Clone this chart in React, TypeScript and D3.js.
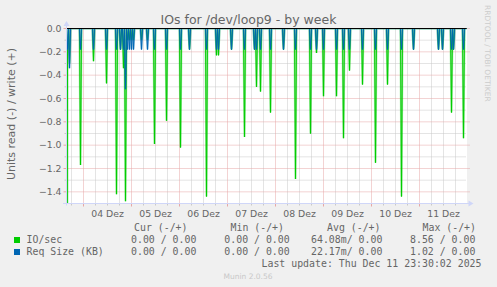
import React from 'react';
import * as d3 from 'd3';

const W = 497;
const H = 287;

const startTime = '2025-12-03T15:30:00';
const endTime = '2025-12-11T23:30:00';

// spike events (read side, plotted negative)
const eventTimes = [
  '2025-12-03T15:30', '2025-12-03T16:00', '2025-12-03T17:00', '2025-12-03T22:30',
  '2025-12-04T05:00', '2025-12-04T11:30', '2025-12-04T16:30', '2025-12-04T18:30',
  '2025-12-04T20:00', '2025-12-04T21:00', '2025-12-04T22:00', '2025-12-04T23:00',
  '2025-12-05T00:00', '2025-12-05T01:00', '2025-12-05T05:00', '2025-12-05T08:00',
  '2025-12-05T11:30', '2025-12-05T17:30', '2025-12-06T00:30', '2025-12-06T05:00',
  '2025-12-06T13:30', '2025-12-06T18:30', '2025-12-06T19:30', '2025-12-07T02:00',
  '2025-12-07T08:30', '2025-12-07T13:30', '2025-12-07T14:30', '2025-12-07T16:30',
  '2025-12-07T21:30', '2025-12-08T04:00', '2025-12-08T10:00', '2025-12-08T17:30',
  '2025-12-08T20:30', '2025-12-09T00:00', '2025-12-09T06:30', '2025-12-09T10:00',
  '2025-12-09T13:00', '2025-12-09T19:30', '2025-12-10T02:00', '2025-12-10T08:00',
  '2025-12-10T15:00', '2025-12-10T21:00', '2025-12-11T09:30', '2025-12-11T11:30',
  '2025-12-11T16:00', '2025-12-11T17:00', '2025-12-11T22:00',
];
const ioValues = [
  8.56, 0.18, 0.3, 1.17,
  0.28, 0.47, 1.42, 0.18,
  0.34, 1.48, 0.1, 0.1,
  0.1, 0.1, 0.1, 0.1,
  0.99, 0.79, 1.02, 0.18,
  1.44, 0.23, 0.23, 0.18,
  0.93, 0.18, 0.5, 0.54,
  0.72, 0.18, 1.29, 0.9,
  0.21, 0.58, 0.58, 0.94,
  0.36, 0.48, 1.15, 0.48,
  1.44, 0.18, 0.18, 0.18,
  0.72, 0.18, 0.94,
];
const reqValues = [
  0, 0.18, 0.34, 0.18,
  0.18, 0.18, 0.18, 0.18,
  0.18, 0.52, 0.18, 0.18,
  0.18, 0.18, 0.18, 0.18,
  0.18, 0.18, 0.18, 0.18,
  0.18, 0.18, 0.18, 0.18,
  0.18, 0.18, 0.18, 0.18,
  0.18, 0.18, 0.18, 0.18,
  0.18, 0.18, 0.18, 0.18,
  0.18, 0.18, 0.18, 0.18,
  0.18, 0.18, 0.18, 0.18,
  0.18, 0.18, 0.18,
];

const yMajorTicks = [0, -0.2, -0.4, -0.6, -0.8, -1.0, -1.2, -1.4];
const yMinorTicks = [-0.1, -0.3, -0.5, -0.7, -0.9, -1.1, -1.3, -1.5];
const xTickLabels = ['04 Dez', '05 Dez', '06 Dez', '07 Dez', '08 Dez', '09 Dez', '10 Dez', '11 Dez'];

const seriesNames = ['IO/sec', 'Req Size (KB)'];
const seriesColors = ['#00CC00', '#0066B3'];
const legendHeaders = ['Cur (-/+)', 'Min (-/+)', 'Avg (-/+)', 'Max (-/+)'];
const legendRows = [
  ['0.00 / 0.00', '0.00 / 0.00', '64.08m/ 0.00', '8.56 / 0.00'],
  ['0.00 / 0.00', '0.00 / 0.00', '22.17m/ 0.00', '1.02 / 0.00'],
];

const SANS = "'DejaVu Sans', sans-serif";
const MONO = "'DejaVu Sans Mono', monospace";
const FONT = '#666666';
const AXIS = '#CFD6F8';
const GRID = '#c8c8c8';
const MGRID = '#e6a6a6';

export default function App() {
  const t0 = new Date(startTime);
  const t1 = new Date(endTime);
  const left = 66.5, right = 466.5, top = 28.5, bottom = 203.5;
  const x = d3.scaleTime().domain([t0, t1]).range([left, right]);
  const y = d3.scaleLinear().domain([-1.5, 0]).range([bottom, top]);

  const slots = d3.timeMinute.every(30)!.range(t0, new Date(t1.getTime() + 1));
  const ioMap = new Map<number, number>();
  const reqMap = new Map<number, number>();
  eventTimes.forEach((s, i) => {
    const t = new Date(s).getTime();
    ioMap.set(t, ioValues[i]);
    reqMap.set(t, reqValues[i]);
  });
  const ioSeries: [Date, number][] = slots.map(d => [d, ioMap.get(d.getTime()) ?? 0]);
  const reqSeries: [Date, number][] = slots.map(d => [d, reqMap.get(d.getTime()) ?? 0]);
  const line = d3.line<[Date, number]>().x(d => x(d[0])).y(d => y(-d[1]));

  const days = d3.timeDay.range(t0, t1);
  const sixH = d3.timeHour.every(6)!.range(t0, t1).filter(d => d.getHours() !== 0);
  const noons = days.map(d => d3.timeHour.offset(d, 12));
  const fmt = d3.format('.1f');

  return (
    <svg width={W} height={H} style={{ position: 'absolute', left: 0, top: 0, background: '#F0F0F0' }}>
      <rect x={0} y={0} width={W} height={H} fill="#F0F0F0" />
      <defs>
        <clipPath id="plotclip">
          <rect x={66} y={28} width={401} height={176} />
        </clipPath>
      </defs>
      <rect x={66} y={28} width={401} height={176} fill="#ffffff" />
      {/* minor grid */}
      {sixH.map((d, i) => (
        <g key={'vm' + i}>
          <line x1={x(d)} x2={x(d)} y1={top} y2={bottom} stroke={GRID} strokeDasharray="1,1" />
          <line x1={x(d)} x2={x(d)} y1={bottom} y2={bottom + 2} stroke={GRID} />
        </g>
      ))}
      {yMinorTicks.map((v, i) => (
        <g key={'hm' + i}>
          <line x1={left} x2={right} y1={y(v)} y2={y(v)} stroke={GRID} strokeDasharray="1,1" />
          <line x1={left - 2} x2={left} y1={y(v)} y2={y(v)} stroke={GRID} />
        </g>
      ))}
      {/* major grid */}
      {days.map((d, i) => (
        <g key={'vM' + i}>
          <line x1={x(d)} x2={x(d)} y1={top} y2={bottom} stroke={MGRID} strokeDasharray="1,1" />
          <line x1={x(d)} x2={x(d)} y1={bottom} y2={bottom + 3} stroke={MGRID} />
        </g>
      ))}
      {yMajorTicks.map((v, i) => (
        <g key={'hM' + i}>
          <line x1={left} x2={right + 3} y1={y(v)} y2={y(v)} stroke={MGRID} strokeDasharray="1,1" />
          <line x1={left - 3} x2={left} y1={y(v)} y2={y(v)} stroke={MGRID} />
          <text x={61.5} y={y(v) + 3.3} textAnchor="end" fontFamily={SANS} fontSize={9.3} fill={FONT}>
            {fmt(v)}
          </text>
        </g>
      ))}
      {/* series */}
      <g clipPath="url(#plotclip)">
        <path d={line(ioSeries) ?? ''} fill="none" stroke={seriesColors[0]} strokeOpacity={0.35} strokeWidth={2.2} />
        <path d={line(ioSeries) ?? ''} fill="none" stroke={seriesColors[0]} strokeWidth={1} />
        <path d={line(reqSeries) ?? ''} fill="none" stroke={seriesColors[1]} strokeOpacity={0.35} strokeWidth={2.2} />
        <path d={line(reqSeries) ?? ''} fill="none" stroke={seriesColors[1]} strokeWidth={1} />
      </g>
      {/* zero line */}
      <line x1={left} x2={right} y1={y(0)} y2={y(0)} stroke="#000000" strokeWidth={1} />
      {/* axes */}
      <line x1={left} x2={left} y1={bottom + 2} y2={23} stroke={AXIS} />
      <path d={`M${left - 3},26 L${left + 3},26 L${left},21 Z`} fill={AXIS} />
      <line x1={63} x2={right + 3} y1={bottom} y2={bottom} stroke={AXIS} />
      <path d={`M${right + 2},${bottom - 3} L${right + 2},${bottom + 3} L${right + 7},${bottom} Z`} fill={AXIS} />
      {/* x labels */}
      {noons.map((d, i) => (
        <text key={'xl' + i} x={x(d)} y={216.5} textAnchor="middle" fontFamily={SANS} fontSize={9.3} fill={FONT}>
          {xTickLabels[i]}
        </text>
      ))}
      {/* title */}
      <text x={248.5} y={24} textAnchor="middle" fontFamily={SANS} fontSize={12.5} fill={FONT}>
        IOs for /dev/loop9 - by week
      </text>
      {/* y label */}
      <text transform="translate(15,114) rotate(-90)" textAnchor="middle" fontFamily={SANS} fontSize={11} fill={FONT}>
        Units read (-) / write (+)
      </text>
      {/* watermark */}
      <text transform="translate(485,5) rotate(90)" textAnchor="start" fontFamily={SANS} fontSize={7.5} fill="#cccccc">
        RRDTOOL / TOBI OETIKER
      </text>
      {/* legend */}
      {legendHeaders.map((h, i) => (
        <text key={'lh' + i} x={[134, 230.5, 327, 422.5][i]} y={230.5} fontFamily={MONO} fontSize={9.9} fill={FONT} style={{ whiteSpace: 'pre' }}>
          {h}
        </text>
      ))}
      {seriesNames.map((n, r) => (
        <g key={'lr' + r}>
          <rect x={14} y={237 + r * 12} width={6} height={6} fill={seriesColors[r]} />
          <text x={26.5} y={242.8 + r * 12} fontFamily={MONO} fontSize={9.9} fill={FONT} style={{ whiteSpace: 'pre' }}>
            {n}
          </text>
          {legendRows[r].map((v, c) => (
            <text key={'lv' + c} x={[131, 224.3, 311, 410][c]} y={242.8 + r * 12} fontFamily={MONO} fontSize={9.9} fill={FONT} style={{ whiteSpace: 'pre' }}>
              {v}
            </text>
          ))}
        </g>
      ))}
      <text x={261.5} y={266.7} fontFamily={MONO} fontSize={9.9} fill={FONT}>
        Last update: Thu Dec 11 23:30:02 2025
      </text>
      <text x={248} y={279} textAnchor="middle" fontFamily={SANS} fontSize={7.5} fill="#c8c8c8">
        Munin 2.0.56
      </text>
    </svg>
  );
}
